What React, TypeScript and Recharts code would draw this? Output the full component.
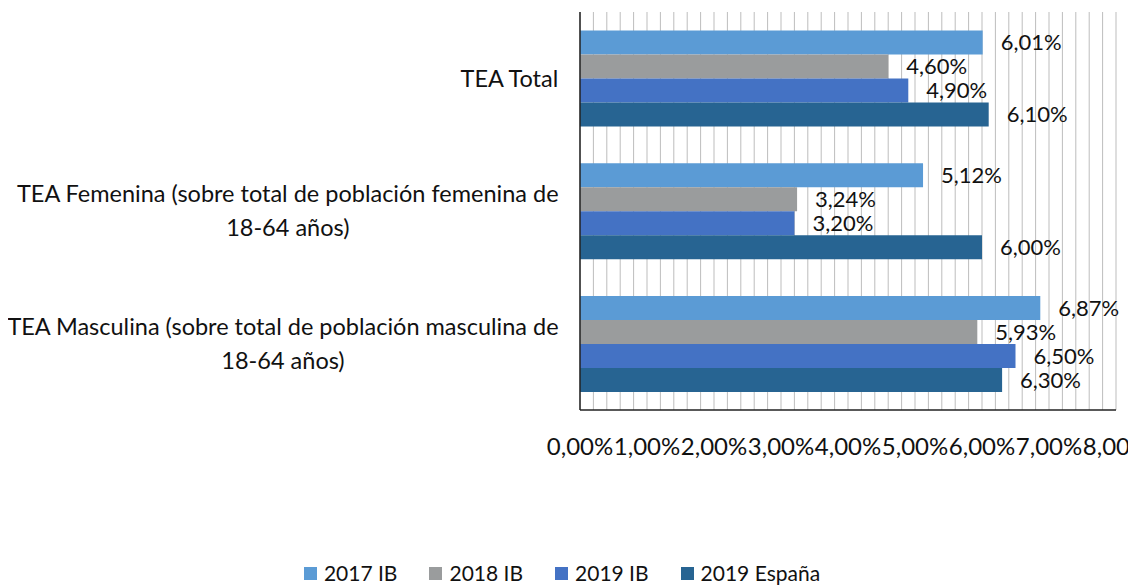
import { BarChart, Bar, XAxis, YAxis, CartesianGrid, Legend, LabelList } from "recharts";

const CATEGORY_LINES = [
  ["TEA Total"],
  ["TEA Femenina (sobre total de población femenina de", "18-64 años)"],
  ["TEA Masculina (sobre total de población masculina de", "18-64 años)"],
];
const CATEGORIES = CATEGORY_LINES.map((l) => l.join(" "));

const SERIES = ["2017 IB", "2018 IB", "2019 IB", "2019 España"];
const VALUES_2017_IB = [6.01, 5.12, 6.87];
const VALUES_2018_IB = [4.6, 3.24, 5.93];
const VALUES_2019_IB = [4.9, 3.2, 6.5];
const VALUES_2019_ES = [6.1, 6.0, 6.3];

const X_TICKS = [0, 1, 2, 3, 4, 5, 6, 7, 8];
const GRID_STEPS = Array.from({ length: 41 }, (_, i) => i * 0.2);

const COLORS = ["#5b9bd5", "#9a9c9d", "#4472c4", "#276492"];
const FONT = "Lato, 'Open Sans', sans-serif";

const data = CATEGORIES.map((category, i) => ({
  category,
  lines: CATEGORY_LINES[i],
  s0: VALUES_2017_IB[i],
  s1: VALUES_2018_IB[i],
  s2: VALUES_2019_IB[i],
  s3: VALUES_2019_ES[i],
}));

const fmt = (v: number) => v.toFixed(2).replace(".", ",") + "%";

let ctx: CanvasRenderingContext2D | null = null;
function measure(text: string, size: number) {
  if (!ctx) ctx = document.createElement("canvas").getContext("2d");
  if (!ctx) return text.length * size * 0.5;
  ctx.font = `${size}px ${FONT}`;
  return ctx.measureText(text).width;
}

function CategoryTick({ x, y, payload }: any) {
  const idx = CATEGORIES.indexOf(payload.value);
  const lines = CATEGORY_LINES[idx] || [payload.value];
  const size = 23.5;
  const right = x - 13;
  const w = measure(lines[0], size);
  const cx = right - w / 2;
  const lh = 34;
  const start = y - ((lines.length - 1) * lh) / 2;
  return (
    <g>
      {lines.map((line: string, i: number) => (
        <text
          key={i}
          x={cx}
          y={start + i * lh}
          dy="0.35em"
          textAnchor="middle"
          fontSize={size}
          fontFamily={FONT}
          fill="#111"
        >
          {line}
        </text>
      ))}
    </g>
  );
}

function LegendContent() {
  return (
    <div style={{ display: "flex", justifyContent: "center", gap: 32, fontFamily: FONT, fontSize: 21, lineHeight: "24px", color: "#111", paddingTop: 3 }}>
      {SERIES.map((s, i) => (
        <div key={s} style={{ display: "flex", alignItems: "center" }}>
          <span style={{ width: 13, height: 13, background: COLORS[i], display: "inline-block", marginRight: 7 }} />
          <span>{s}</span>
        </div>
      ))}
    </div>
  );
}

export default function App() {
  return (
    <BarChart
      width={1128}
      height={580}
      data={data}
      layout="vertical"
      margin={{ top: 4, right: 20, bottom: 0, left: 0 }}
      barGap={0}
      barCategoryGap="14%"
    >
      <CartesianGrid
        horizontal={false}
        stroke="#bdbdbd"
        verticalCoordinatesGenerator={({ offset }: any) =>
          GRID_STEPS.map((v) => offset.left + (v / 8) * offset.width)
        }
      />
      <XAxis
        type="number"
        domain={[0, 8]}
        ticks={X_TICKS}
        interval={0}
        tickFormatter={fmt}
        tickLine={false}
        tickSize={0}
        tickMargin={28}
        height={148}
        axisLine={{ stroke: "#222", strokeWidth: 1.5 }}
        tick={{ fontSize: 24, fontFamily: FONT, fill: "#111" }}
      />
      <YAxis
        type="category"
        dataKey="category"
        width={572}
        tickLine={false}
        axisLine={{ stroke: "#222", strokeWidth: 1.5 }}
        tick={<CategoryTick />}
        interval={0}
      />
      <Legend verticalAlign="bottom" height={30} content={<LegendContent />} />
      {["s0", "s1", "s2", "s3"].map((key, i) => (
        <Bar key={key} dataKey={key} name={SERIES[i]} fill={COLORS[i]} isAnimationActive={false}>
          <LabelList
            dataKey={key}
            position="right"
            offset={18}
            formatter={(v: any) => fmt(Number(v))}
            style={{ fontSize: 22, fontFamily: FONT, fill: "#111" }}
          />
        </Bar>
      ))}
    </BarChart>
  );
}
